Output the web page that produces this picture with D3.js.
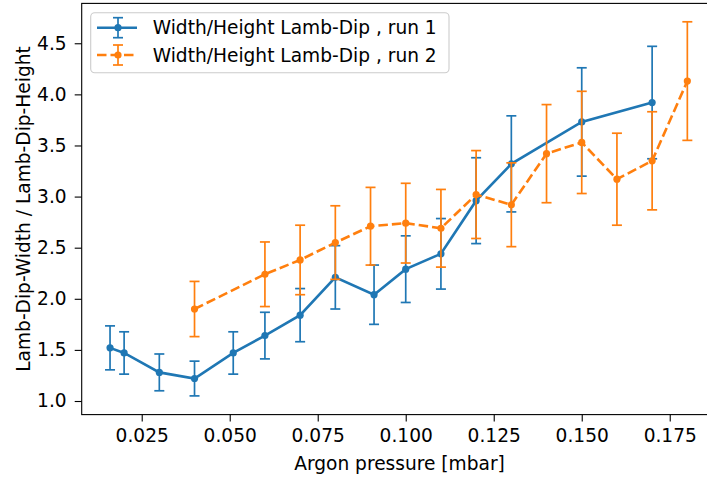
<!DOCTYPE html>
<html>
<head>
<meta charset="utf-8">
<script src="https://cdn.jsdelivr.net/npm/d3@7"></script>
<style>
  body { margin: 0; background: #fff; }
  text { font-family: "DejaVu Sans", sans-serif; fill: #000; }
</style>
</head>
<body>
<div id="chart"></div>
<script>
// run 1
const run1X = [0.016, 0.02, 0.03, 0.04, 0.051, 0.06, 0.07, 0.08, 0.091, 0.10, 0.11, 0.12, 0.13, 0.15, 0.17]
const run1Y = [1.52, 1.47, 1.28, 1.22, 1.47, 1.64, 1.84, 2.21, 2.04, 2.29, 2.44, 2.96, 3.32, 3.73, 3.92]
const run1Err = [0.215, 0.207, 0.18, 0.17, 0.207, 0.228, 0.26, 0.31, 0.29, 0.326, 0.345, 0.42, 0.47, 0.53, 0.55]

// run 2
const run2X = [0.04, 0.06, 0.07, 0.08, 0.09, 0.10, 0.11, 0.12, 0.13, 0.14, 0.15, 0.16, 0.17, 0.18]
const run2Y = [1.90, 2.24, 2.38, 2.55, 2.71, 2.74, 2.69, 3.02, 2.92, 3.42, 3.53, 3.17, 3.35, 4.13]
const run2Err = [0.27, 0.316, 0.34, 0.36, 0.38, 0.39, 0.38, 0.43, 0.41, 0.48, 0.50, 0.45, 0.48, 0.58]

const xTicks = [0.025, 0.050, 0.075, 0.100, 0.125, 0.150, 0.175]
const yTicks = [1.0, 1.5, 2.0, 2.5, 3.0, 3.5, 4.0, 4.5]
const seriesNames = ["Width/Height Lamb-Dip , run 1", "Width/Height Lamb-Dip , run 2"]

const W = 707, H = 477
const margin = {top: 3.4, left: 81.7, right: -9.2, bottom: 62.4}
const width = W - margin.left - margin.right
const height = H - margin.top - margin.bottom
const fontSize = "18.6px"

const svg = d3.select("#chart").append("svg")
  .attr("width", W)
  .attr("height", H)

const g = svg.append("g")
  .attr("transform", `translate(${margin.left}, ${margin.top})`)

const x = d3.scaleLinear().domain([0.00795, 0.1882]).range([0, width])
const y = d3.scaleLinear().domain([0.867, 4.89]).range([height, 0])

// axes
const xAxis = g.append("g")
  .attr("transform", `translate(0, ${height})`)
  .call(d3.axisBottom(x).tickValues(xTicks).tickFormat(d3.format(".3f")).tickSize(7).tickPadding(7))
const yAxis = g.append("g")
  .call(d3.axisLeft(y).tickValues(yTicks).tickFormat(d3.format(".1f")).tickSize(7).tickPadding(8))
;[xAxis, yAxis].forEach(a => {
  a.selectAll("text").style("font-size", fontSize).style("font-family", "DejaVu Sans").attr("fill", "#000")
  a.selectAll("line").attr("stroke", "#000").attr("stroke-width", 1.1)
  a.select(".domain").remove()
})

// spines
g.append("rect")
  .attr("x", 0).attr("y", 0)
  .attr("width", width).attr("height", height)
  .attr("fill", "none").attr("stroke", "#000").attr("stroke-width", 1.1)

const drawSeries = (xs, ys, errs, color, dash) => {
  const pts = xs.map((v, i) => ({x: v, y: ys[i], e: errs[i]}))
  const s = g.append("g")
  // error bars
  s.selectAll(".bar").data(pts).join("line")
    .attr("x1", d => x(d.x)).attr("x2", d => x(d.x))
    .attr("y1", d => y(d.y - d.e)).attr("y2", d => y(d.y + d.e))
    .attr("stroke", color).attr("stroke-width", 1.7)
  s.selectAll(".capTop").data(pts).join("line")
    .attr("x1", d => x(d.x) - 5).attr("x2", d => x(d.x) + 5)
    .attr("y1", d => y(d.y + d.e)).attr("y2", d => y(d.y + d.e))
    .attr("stroke", color).attr("stroke-width", 1.7)
  s.selectAll(".capBot").data(pts).join("line")
    .attr("x1", d => x(d.x) - 5).attr("x2", d => x(d.x) + 5)
    .attr("y1", d => y(d.y - d.e)).attr("y2", d => y(d.y - d.e))
    .attr("stroke", color).attr("stroke-width", 1.7)
  // line
  s.append("path")
    .datum(pts)
    .attr("d", d3.line().x(d => x(d.x)).y(d => y(d.y)))
    .attr("fill", "none")
    .attr("stroke", color)
    .attr("stroke-width", 2.6)
    .attr("stroke-dasharray", dash)
  // markers
  s.selectAll(".dot").data(pts).join("circle")
    .attr("cx", d => x(d.x)).attr("cy", d => y(d.y))
    .attr("r", 3.6)
    .attr("fill", color)
}

drawSeries(run1X, run1Y, run1Err, "#1f77b4", null)
drawSeries(run2X, run2Y, run2Err, "#ff7f0e", "9.5,4")

// axis labels
svg.append("text")
  .attr("x", 399.5)
  .attr("y", 469.5)
  .attr("text-anchor", "middle")
  .style("font-size", fontSize)
  .text("Argon pressure [mbar]")

svg.append("text")
  .attr("transform", `translate(30, 209) rotate(-90)`)
  .attr("text-anchor", "middle")
  .style("font-size", fontSize)
  .text("Lamb-Dip-Width / Lamb-Dip-Height")

// legend
const legend = svg.append("g")
legend.append("rect")
  .attr("x", 90.7).attr("y", 12.7)
  .attr("width", 358.3).attr("height", 60)
  .attr("rx", 4).attr("ry", 4)
  .attr("fill", "#fff").attr("fill-opacity", 0.8)
  .attr("stroke", "#cccccc").attr("stroke-width", 1.1)

const legColors = ["#1f77b4", "#ff7f0e"]
const legDash = [null, "9.5,4"]
seriesNames.forEach((name, i) => {
  const cy = 27.7 + i * 27.3
  const row = legend.append("g")
  row.append("line")
    .attr("x1", 97).attr("x2", 137).attr("y1", cy).attr("y2", cy)
    .attr("stroke", legColors[i]).attr("stroke-width", 2.6)
    .attr("stroke-dasharray", legDash[i])
  row.append("line")
    .attr("x1", 118).attr("x2", 118).attr("y1", cy - 10).attr("y2", cy + 10)
    .attr("stroke", legColors[i]).attr("stroke-width", 1.7)
  ;[cy - 10, cy + 10].forEach(cyy => {
    row.append("line")
      .attr("x1", 113).attr("x2", 123).attr("y1", cyy).attr("y2", cyy)
      .attr("stroke", legColors[i]).attr("stroke-width", 1.7)
  })
  row.append("circle").attr("cx", 118).attr("cy", cy).attr("r", 3.6).attr("fill", legColors[i])
  row.append("text")
    .attr("x", 152.7).attr("y", cy + 6.6)
    .style("font-size", fontSize)
    .text(name)
})
</script>
</body>
</html>
